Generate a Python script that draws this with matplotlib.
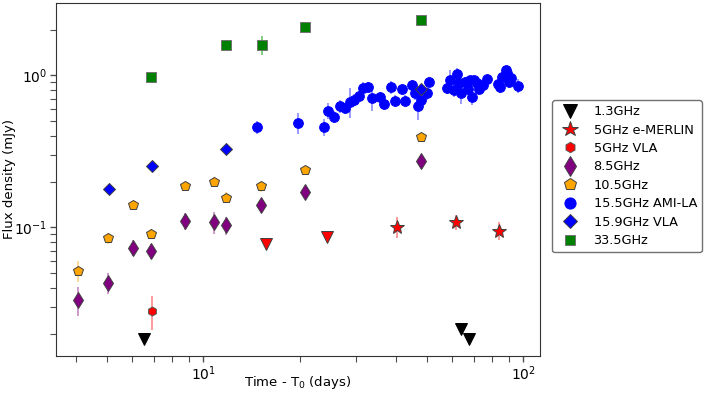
import matplotlib
matplotlib.use('Agg')
import matplotlib.pyplot as plt

# 1.3GHz upper limits
t_13 = [6.54, 63.8, 67.8]
f_13 = [0.0183, 0.0213, 0.0183]

# 5GHz e-MERLIN detections + upper limits
t_em = [40.3, 61.6, 83.7]
f_em = [0.101, 0.108, 0.095]
e_em = [0.016, 0.012, 0.013]
t_em_lim = [15.7, 24.4]
f_em_lim = [0.0777, 0.086]

# 5GHz VLA
t_5vla = [6.91]
f_5vla = [0.0283]
e_5vla = [0.0072]

# 8.5GHz
t_85 = [4.06, 5.06, 6.04, 6.87, 8.78, 10.8, 11.78, 15.1, 20.8, 47.9]
f_85 = [0.0332, 0.0432, 0.0734, 0.0698, 0.110, 0.109, 0.103, 0.140, 0.171, 0.273]
e_85 = [0.0070, 0.0070, 0.0090, 0.0080, 0.014, 0.018, 0.014, 0.014, 0.014, 0.020]

# 10.5GHz
t_105 = [4.06, 5.06, 6.04, 6.87, 8.78, 10.8, 11.78, 15.1, 20.8, 47.9]
f_105 = [0.0516, 0.085, 0.140, 0.091, 0.187, 0.200, 0.157, 0.186, 0.238, 0.393]
e_105 = [0.0080, 0.0070, 0.0080, 0.0070, 0.010, 0.015, 0.013, 0.014, 0.010, 0.015]

# 15.5GHz AMI-LA
t_ami = [14.7, 19.8, 23.8, 24.6, 25.7, 26.7, 27.7, 28.7, 29.6, 30.7,
         31.6, 32.8, 33.7, 35.7, 36.7, 38.7, 39.7, 41.9, 42.7, 44.8,
         45.7, 46.9, 47.9, 49.9, 50.8, 57.8, 58.9, 60.9, 61.8, 62.9,
         64.0, 65.6, 67.0, 68.1, 69.2, 69.9, 71.4, 72.9, 74.6, 77.0,
         83.0, 84.2, 85.6, 87.9, 89.0, 90.2, 91.7, 96.2]
f_ami = [0.455, 0.488, 0.457, 0.585, 0.534, 0.628, 0.609, 0.670, 0.688, 0.734,
         0.821, 0.838, 0.713, 0.720, 0.650, 0.838, 0.678, 0.813, 0.678, 0.860,
         0.762, 0.631, 0.688, 0.762, 0.908, 0.829, 0.931, 0.797, 1.020, 0.885,
         0.769, 0.900, 0.810, 0.931, 0.716, 0.931, 0.885, 0.810, 0.860, 0.946,
         0.876, 0.834, 0.979, 1.080, 1.030, 0.908, 0.960, 0.850]
e_ami = [0.045, 0.075, 0.060, 0.070, 0.050, 0.060, 0.050, 0.150, 0.060, 0.060,
         0.080, 0.070, 0.130, 0.060, 0.060, 0.080, 0.060, 0.070, 0.060, 0.070,
         0.070, 0.120, 0.060, 0.070, 0.070, 0.070, 0.150, 0.080, 0.100, 0.080,
         0.120, 0.070, 0.070, 0.060, 0.080, 0.060, 0.060, 0.070, 0.060, 0.060,
         0.060, 0.070, 0.070, 0.080, 0.070, 0.080, 0.070, 0.090]

# 15.9GHz VLA
t_159 = [5.09, 6.90, 11.78, 47.9]
f_159 = [0.178, 0.253, 0.327, 0.810]
e_159 = [0.006, 0.008, 0.010, 0.020]

# 33.5GHz
t_335 = [6.85, 11.78, 15.3, 20.8, 47.9]
f_335 = [0.97, 1.59, 1.59, 2.09, 2.31]
e_335 = [0.04, 0.06, 0.23, 0.07, 0.07]

fig = plt.figure(figsize=(7.06, 3.95), dpi=100)
ax = fig.add_axes([0.0793, 0.0995, 0.6857, 0.8929])

edge = '0.25'

def plot_set(t, f, e, marker, color, label, ms, ecol, mec=edge):
    # error bars first (no legend entry), then markers on top
    ax.errorbar(t, f, yerr=e, fmt='none', ecolor=ecol, elinewidth=1.1,
                capsize=0, zorder=2)
    ax.plot(t, f, marker, color=color, ms=ms, mec=mec, mew=0.7,
            label=label, zorder=3)

ax.plot(t_13, f_13, 'v', color='black', ms=8.6, mec='black', mew=0.7,
        label='1.3GHz', zorder=3)
plot_set(t_em, f_em, e_em, '*', 'red', '5GHz e-MERLIN', 10, '#ff8080')
ax.plot(t_em_lim, f_em_lim, 'v', color='red', ms=8.6, mec=edge, mew=0.7, zorder=3)
plot_set(t_5vla, f_5vla, e_5vla, 'h', 'red', '5GHz VLA', 6.5, '#ff8080', mec='0.35')
plot_set(t_85, f_85, e_85, 'd', 'purple', '8.5GHz', 8.5, '#c080c0')
plot_set(t_105, f_105, e_105, 'p', 'orange', '10.5GHz', 7.5, '#ffd080')
plot_set(t_ami, f_ami, e_ami, 'o', 'blue', '15.5GHz AMI-LA', 7, '#8080ff', mec='blue')
plot_set(t_159, f_159, e_159, 'D', 'blue', '15.9GHz VLA', 6.5, '#8080ff')
plot_set(t_335, f_335, e_335, 's', 'green', '33.5GHz', 6.5, '#60c060', mec='0.45')

ax.set_xscale('log')
ax.set_yscale('log')
ax.set_xlim(3.47, 112.7)
ax.set_ylim(0.0143, 2.99)

ax.set_xlabel('Time - T$_0$ (days)', fontsize=9.5, va='center')
ax.set_ylabel('Flux density (mJy)', fontsize=9.5, va='center', ha='center')
ax.xaxis.set_label_coords(0.5, -0.077)
ax.yaxis.set_label_coords(-0.095, 0.5)

for s in ax.spines.values():
    s.set_color('0.2')
ax.tick_params(which='both', direction='out', top=False, right=False,
               color='0.3', labelsize=10, pad=2)
ax.tick_params(which='major', length=4.5, width=1)
ax.tick_params(which='minor', length=4.5, width=0.8)

leg = ax.legend(loc='upper left', bbox_to_anchor=(1.025, 0.725), fontsize=9.3,
                numpoints=1, frameon=True, fancybox=True, borderaxespad=0,
                handletextpad=0.8, labelspacing=0.42, markerscale=1.15)
leg.get_frame().set_edgecolor('0.3')

fig.savefig('out.png', dpi=100)
